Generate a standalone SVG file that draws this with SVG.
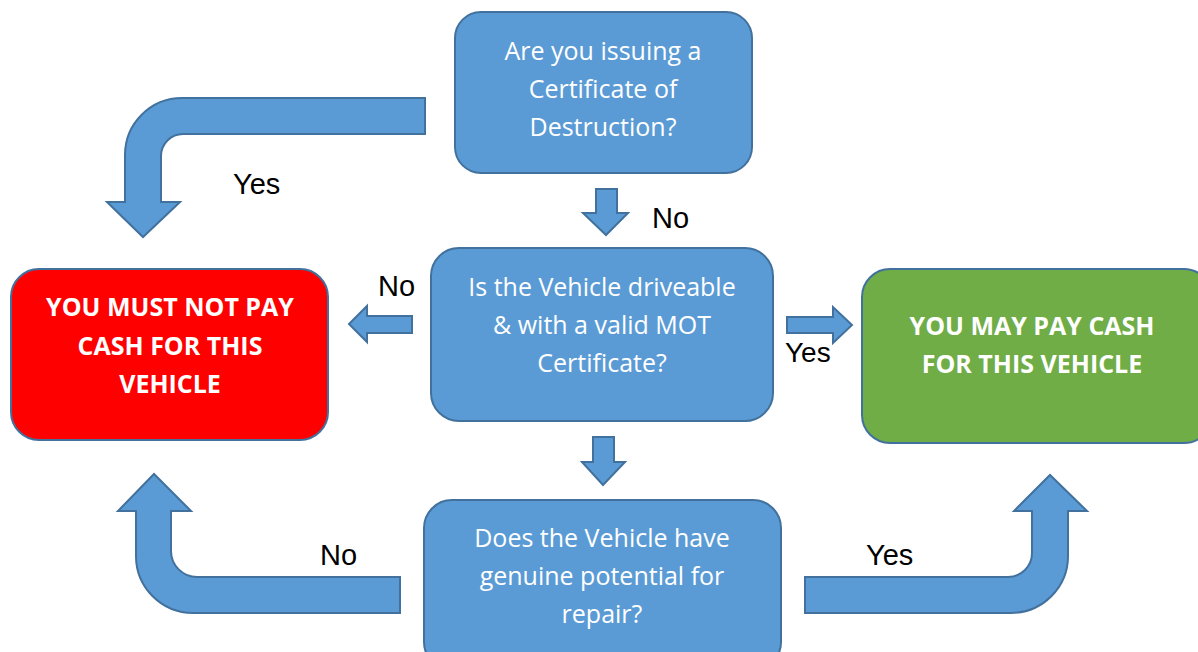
<svg xmlns="http://www.w3.org/2000/svg" width="1198" height="652" viewBox="0 0 1198 652">
<style>
.box{fill:#5B9BD5;stroke:#41719C;stroke-width:2}
.arr{fill:#5B9BD5;stroke:#41719C;stroke-width:2;stroke-linejoin:miter}
.t{font-family:"Open Sans","Liberation Sans",sans-serif;font-size:25px;fill:#fff;text-anchor:middle}
.b{font-family:"Open Sans","Liberation Sans",sans-serif;font-size:25px;font-weight:bold;fill:#fff;text-anchor:middle}
.lbl{font-family:"Liberation Sans",Arial,sans-serif;font-size:29px;fill:#000}
</style>
<rect width="1198" height="652" fill="#fff"/>
<g id="connectors">
<path class="arr" d="M425,98 L182,98 A57,57 0 0 0 125,155 L125,202 L107,202 L143,237 L180,202 L161,202 L161,156 A22,22 0 0 1 183,134 L425,134 Z"/>
<path class="arr" d="M596,189 L617,189 L617,213 L628,213 L606,235 L583,213 L596,213 Z"/>
<path class="arr" d="M593,437 L614,437 L614,462 L625,462 L603,485 L582,462 L593,462 Z"/>
<path class="arr" d="M412,316 L412,333 L367,333 L367,342 L349,324 L367,306 L367,316 Z"/>
<path class="arr" d="M787,317 L833,317 L833,307 L852,325 L833,343 L833,333 L787,333 Z"/>
<path class="arr" d="M400,577 L197,577 A26,26 0 0 1 171,551 L171,511 L191,511 L154,474 L118,511 L136,511 L136,556 A57,57 0 0 0 193,613 L400,613 Z"/>
<path class="arr" d="M805,577 L1008,577 A24,24 0 0 0 1032,553 L1032,511 L1014,511 L1050,475 L1087,511 L1068,511 L1068,556 A57,57 0 0 1 1011,613 L805,613 Z"/>
<text class="lbl" x="233" y="194">Yes</text>
<text class="lbl" x="652" y="228">No</text>
<text class="lbl" x="378" y="296">No</text>
<text class="lbl" x="785" y="362" style="font-size:28px">Yes</text>
<text class="lbl" x="320" y="565">No</text>
<text class="lbl" x="866" y="565">Yes</text>
</g>
<g id="q1">
<rect class="box" x="455" y="12" width="297" height="161" rx="26"/>
<text class="t" x="603" y="60">Are you issuing a</text>
<text class="t" x="603" y="98">Certificate of</text>
<text class="t" x="603" y="136">Destruction?</text>
</g>
<g id="q2">
<rect class="box" x="431" y="248" width="342" height="173" rx="28"/>
<text class="t" x="602" y="296">Is the Vehicle driveable</text>
<text class="t" x="602" y="334">&amp; with a valid MOT</text>
<text class="t" x="602" y="372">Certificate?</text>
</g>
<g id="q3">
<rect class="box" x="424" y="500" width="357" height="170" rx="28"/>
<text class="t" x="602" y="547">Does the Vehicle have</text>
<text class="t" x="602" y="585">genuine potential for</text>
<text class="t" x="602" y="623">repair?</text>
</g>
<g id="no-cash">
<rect x="11" y="269" width="317" height="171" rx="28" fill="#FF0000" stroke="#41719C" stroke-width="2"/>
<text class="b" x="170" y="316">YOU MUST NOT PAY</text>
<text class="b" x="170" y="355">CASH FOR THIS</text>
<text class="b" x="170" y="393">VEHICLE</text>
</g>
<g id="cash-ok">
<rect x="862" y="269" width="350" height="174" rx="28" fill="#70AD47" stroke="#41719C" stroke-width="2"/>
<text class="b" x="1032" y="335">YOU MAY PAY CASH</text>
<text class="b" x="1032" y="373">FOR THIS VEHICLE</text>
</g>
</svg>
